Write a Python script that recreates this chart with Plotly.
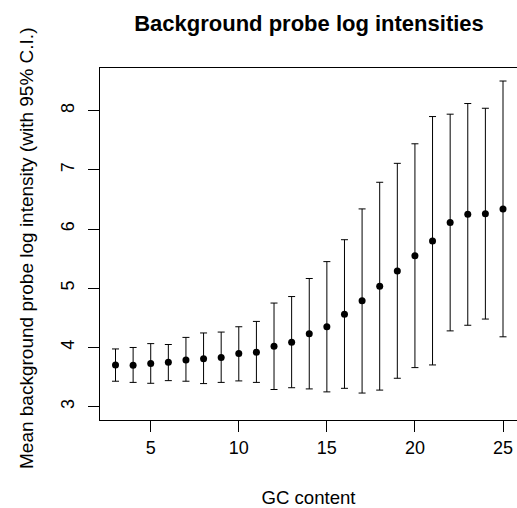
import plotly.graph_objects as go

gc_content = list(range(3, 26))
mean_intensity = [3.705, 3.70, 3.73, 3.75, 3.79, 3.81, 3.83, 3.90, 3.92, 4.02,
                  4.09, 4.23, 4.35, 4.56, 4.79, 5.035, 5.29, 5.55, 5.80, 6.11,
                  6.25, 6.26, 6.34]
ci_upper = [3.975, 4.00, 4.065, 4.05, 4.17, 4.245, 4.26, 4.35, 4.44, 4.75,
            4.86, 5.165, 5.45, 5.82, 6.34, 6.79, 7.11, 7.44, 7.90, 7.94,
            8.12, 8.04, 8.50]
ci_lower = [3.43, 3.41, 3.395, 3.44, 3.43, 3.39, 3.41, 3.435, 3.41, 3.29,
            3.32, 3.30, 3.25, 3.31, 3.23, 3.28, 3.48, 3.66, 3.705, 4.28,
            4.375, 4.48, 4.18]
x_ticks = [5, 10, 15, 20, 25]
y_ticks = [3, 4, 5, 6, 7, 8]

err_plus = [u - m for u, m in zip(ci_upper, mean_intensity)]
err_minus = [m - l for m, l in zip(mean_intensity, ci_lower)]

FONT = "Liberation Sans, Arial, Helvetica, sans-serif"
W, H = 517, 508
L, R, T, B = 100, 0, 68, 88

fig = go.Figure()
fig.add_trace(go.Scatter(
    x=gc_content, y=mean_intensity, mode="markers",
    marker=dict(color="black", size=7),
    error_y=dict(type="data", symmetric=False, array=err_plus, arrayminus=err_minus,
                 color="black", thickness=1, width=3.5),
    showlegend=False, cliponaxis=False, hoverinfo="skip",
))

fig.update_layout(
    width=W, height=H,
    margin=dict(l=L, r=R, t=T, b=B, autoexpand=False),
    paper_bgcolor="white", plot_bgcolor="white",
    hovermode=False, dragmode=False,
    font=dict(family=FONT, size=18, color="black"),
    title=dict(text="<b>Background probe log intensities</b>",
               font=dict(family=FONT, size=22, color="black"),
               x=309 / W, xanchor="center", xref="container",
               y=1 - 23 / H, yanchor="middle", yref="container",
               automargin=False),
)

# y-axis label placed as a rotated annotation (centred slightly below plot centre, as in the reference)
plot_h = H - T - B
plot_w = W - L - R
fig.add_annotation(
    text="Mean background probe log intensity (with 95% C.I.)",
    textangle=-90, showarrow=False,
    xref="paper", yref="paper",
    x=(26 - L) / plot_w, y=(H - B - 249) / plot_h,
    xanchor="center", yanchor="middle",
    font=dict(family=FONT, size=19, color="black"),
)

fig.update_xaxes(
    range=[2.12, 25.795], tickvals=x_ticks, ticktext=[str(v) for v in x_ticks],
    showgrid=False, zeroline=False, showline=True, linecolor="black", linewidth=1,
    mirror=True, ticks="outside", ticklen=11, tickcolor="black", tickwidth=1,
    tickfont=dict(size=18), ticklabelstandoff=0, automargin=False,
    showspikes=False,
    title=dict(text="GC content", font=dict(size=18.6), standoff=34),
)
fig.update_yaxes(
    range=[2.775, 8.72], tickvals=y_ticks, ticktext=[str(v) for v in y_ticks],
    showgrid=False, zeroline=False, showline=True, linecolor="black", linewidth=1,
    mirror=False, ticks="outside", ticklen=11, tickcolor="black", tickwidth=1,
    tickangle=-90, tickfont=dict(size=18), ticklabelstandoff=7, automargin=False,
    showspikes=False,
)

fig.write_html(
    "out.html",
    config={"displayModeBar": False, "staticPlot": True},
    post_script="document.body.style.margin='0';document.body.style.overflow='hidden';",
)
